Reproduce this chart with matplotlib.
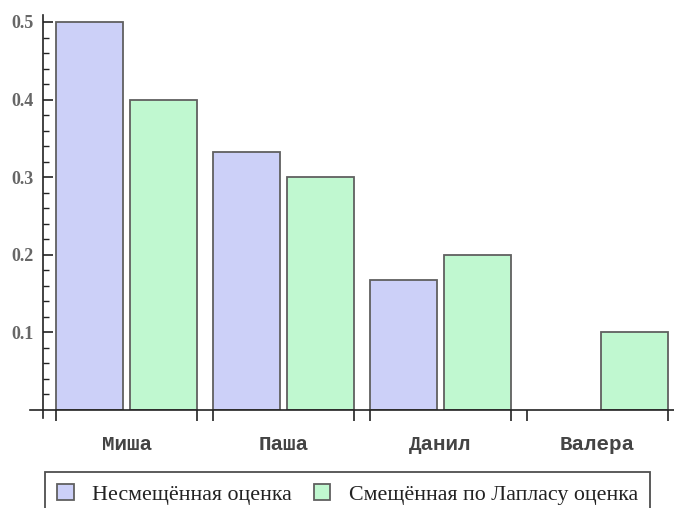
import matplotlib.pyplot as plt
import numpy as np
from matplotlib.patches import Patch

names = ['Миша', 'Паша', 'Данил', 'Валера']
unbiased = [0.5, 0.333, 0.167, 0.0]
laplace = [0.4, 0.3, 0.2, 0.1]
series_labels = ['Несмещённая оценка', 'Смещённая по Лапласу оценка']

blue = '#ccd0f8'
green = '#c0f8d0'
edge = '#606060'

fig = plt.figure(figsize=(6.74, 5.08), dpi=100)
W, H = 674, 508
# axes: y axis at x=43, x axis at y=410, top at y=15
ax = fig.add_axes([43 / W, (H - 410) / H, (674 - 43) / W, (410 - 15) / H])

x = np.arange(len(names))
off = 0.236
bw = 0.427
for vals, col, sign in [(unbiased, blue, -1), (laplace, green, 1)]:
    bars = ax.bar(x + sign * off, vals, bw, color=col, edgecolor=edge, linewidth=1.3)
    for b, v in zip(bars, vals):
        if v == 0:
            b.set_linewidth(0)

ax.set_xlim(-0.532, 3.487)
ax.set_ylim(0, 0.509)

for s in ax.spines.values():
    s.set_visible(False)
# axis lines extending past the origin
ax.plot([-0.021, 1], [0, 0], transform=ax.transAxes, color='#222222', lw=1.2, clip_on=False)
ax.plot([0, 0], [-0.02, 1], transform=ax.transAxes, color='#222222', lw=1.2, clip_on=False)

ax.set_yticks([0.1, 0.2, 0.3, 0.4, 0.5])
ax.set_yticklabels(['0.1', '0.2', '0.3', '0.4', '0.5'], family='Liberation Serif',
                   fontsize=13, fontweight='bold', color='#666666')
ax.set_yticks(np.arange(0.02, 0.5, 0.02), minor=True)
ax.tick_params(axis='y', which='major', direction='in', length=7, width=1.2, color='#222222', pad=7)
ax.tick_params(axis='y', which='minor', direction='in', length=4, width=1.0, color='#222222')

ax.set_xticks(x)
ax.set_xticklabels(names, family='Liberation Mono', fontsize=15, fontweight='bold', color='#444444')
edges = np.concatenate([x - off - bw / 2, x + off + bw / 2])
ax.set_xticks(edges, minor=True)
ax.tick_params(axis='x', which='major', length=0, pad=18)
ax.tick_params(axis='x', which='minor', direction='out', length=8, width=1.2, color='#222222')

handles = [Patch(facecolor=blue, edgecolor=edge, linewidth=1.3),
           Patch(facecolor=green, edgecolor=edge, linewidth=1.3)]
leg = fig.legend(handles, series_labels, loc='upper left', bbox_to_anchor=(45 / W, 1 - 472 / H),
                 ncol=2, frameon=True, fancybox=False, edgecolor='#222222',
                 prop={'family': 'Liberation Serif', 'size': 15.8},
                 handlelength=0.75, handleheight=0.75, handletextpad=0.85, columnspacing=1.0,
                 borderpad=0.55, borderaxespad=0)
leg.get_frame().set_linewidth(1.3)
for t in leg.get_texts():
    t.set_color('#222222')

fig.savefig('out.png', dpi=100)
